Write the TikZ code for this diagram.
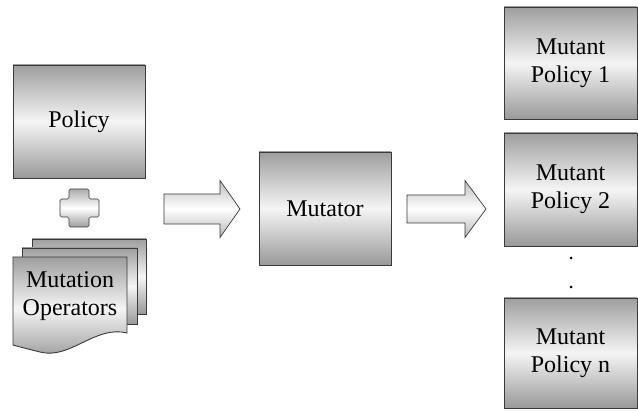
\documentclass[tikz,border=0pt]{standalone}
\usepackage{fontspec}
\setmainfont{Liberation Serif}
\definecolor{edgec}{HTML}{3A3A3A}
\tikzset{
  boxshade/.style={top color=black!38, bottom color=black!40, middle color=black!4},
  pbox/.style={draw=edgec, line width=0.9pt, boxshade, minimum width=132pt, minimum height=113pt,
    inner sep=0pt, align=center, font=\fontsize{24}{28}\selectfont},
  sheet/.style={draw=edgec, line width=0.9pt, boxshade},
  barrow/.style={draw=edgec, line width=0.7pt, top color=black!25, bottom color=black!28, middle color=white},
  plusc/.style={draw=edgec, line width=0.7pt, top color=black!32, bottom color=black!38, middle color=white},
  dotc/.style={fill=black, circle, inner sep=0pt, minimum size=3pt}
}
\begin{document}
\begin{tikzpicture}[x=1pt,y=-1pt]
\useasboundingbox (0,0) rectangle (638,411);
% Policy
\node[pbox] (policy) at (79,121.5) {Policy};
% plus sign
\draw[plusc, rounded corners=1.5pt] (69,189) -- (89,189) -- (89,199) -- (99,199) -- (99,217) -- (89,217) -- (89,227) -- (69,227) -- (69,217) -- (60,217) -- (60,199) -- (69,199) -- cycle;
\coordinate (plus) at (79.5,208);
% stacked documents
\draw[sheet] (32,239) rectangle (146,314);
\draw[sheet] (22,248) rectangle (137,324);
\draw[sheet] (13,257) -- (127,257) -- (127,333)
  .. controls (95,325) and (70,360) .. (40,352)
  .. controls (28,349) and (20,347) .. (13,345) -- cycle;
\node[align=center, font=\fontsize{24}{28}\selectfont, inner sep=0pt] (ops) at (70,296) {Mutation\\Operators};
% Mutator
\node[pbox] (mutator) at (325,208.5) {Mutator};
% block arrows
\coordinate (a1) at (164,208.5);
\draw[barrow] (a1) ++(0,-14.5) -- ++(56,0) -- ++(0,-13.5) -- ++(20,28.5) -- ++(-20,28.5) -- ++(0,-13.5) -- ++(-56,0) -- cycle;
\coordinate (a2) at (407,208.5);
\draw[barrow] (a2) ++(0,-13.5) -- ++(58,0) -- ++(0,-14.5) -- ++(21,28.5) -- ++(-21,28.5) -- ++(0,-14.5) -- ++(-58,0) -- cycle;
% Mutant policies
\node[pbox, minimum width=133pt, minimum height=112pt] (m1) at (570.5,63) {Mutant\\Policy 1};
\node[pbox, minimum width=133pt, minimum height=113pt] (m2) at (570.5,189.5) {Mutant\\Policy 2};
\node[pbox, minimum width=133pt, minimum height=110pt] (mn) at (570.5,353) {Mutant\\Policy n};
\node[dotc] (d1) at (571,258) {};
\node[dotc] (d2) at (571,287) {};
\end{tikzpicture}
\end{document}
